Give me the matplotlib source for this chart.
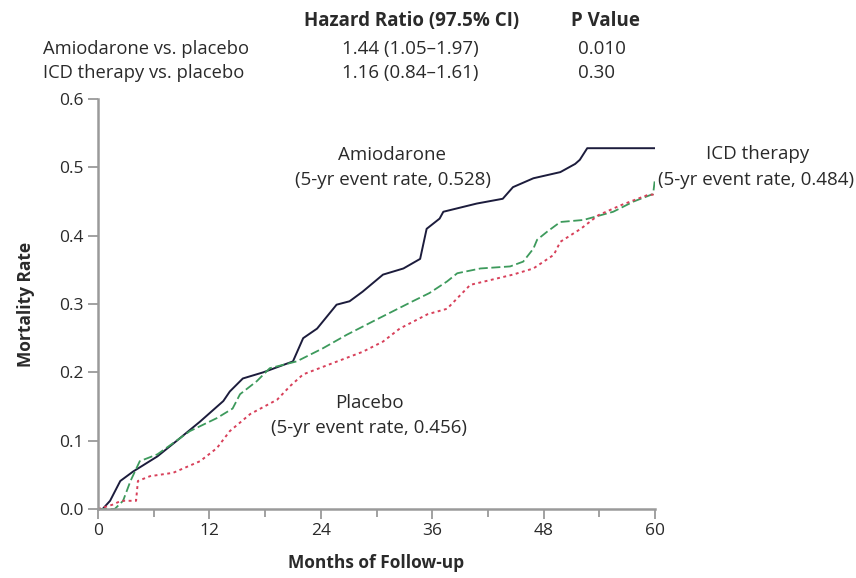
import matplotlib
matplotlib.use("Agg")
import matplotlib.pyplot as plt
import numpy as np

# Kaplan-Meier style cumulative mortality
amio_months = [0, 0.5, 1.3, 2.4, 3.8, 6.4, 8.5, 11.0, 13.5, 14.2, 15.6, 17.8, 21.0, 22.1,
               23.6, 25.7, 27.1, 28.5, 30.7, 32.9, 34.7, 35.4, 36.8, 37.2, 40.8, 43.6,
               44.7, 46.9, 49.8, 51.4, 51.9, 52.7, 60.0]
amio_rate = [0, 0, 0.012, 0.041, 0.055, 0.077, 0.100, 0.128, 0.158, 0.172, 0.191, 0.200,
             0.216, 0.250, 0.264, 0.299, 0.304, 0.318, 0.343, 0.352, 0.366, 0.410, 0.425,
             0.435, 0.447, 0.454, 0.471, 0.484, 0.493, 0.505, 0.511, 0.528, 0.528]

icd_months = [0, 1.8, 2.7, 3.5, 4.5, 6.4, 9.9, 12.8, 14.5, 15.3, 17.1, 18.5, 21.4, 24.2,
              26.8, 30.4, 33.9, 35.7, 37.6, 38.7, 41.2, 44.4, 45.8, 46.9, 47.3, 48.4,
              49.8, 52.3, 55.5, 57.7, 59.8, 60.0]
icd_rate = [0, 0, 0.012, 0.041, 0.070, 0.080, 0.114, 0.133, 0.147, 0.168, 0.187, 0.206,
            0.216, 0.235, 0.255, 0.280, 0.304, 0.316, 0.333, 0.345, 0.352, 0.355, 0.362,
            0.381, 0.394, 0.406, 0.420, 0.423, 0.435, 0.450, 0.461, 0.484]

plac_months = [0, 1.5, 2.5, 4.1, 4.3, 5.6, 8.1, 11.0, 12.8, 14.2, 16.4, 19.3, 20.7, 22.1,
               25.0, 28.5, 30.7, 32.5, 35.5, 37.6, 40.1, 44.7, 46.9, 49.1, 49.8, 52.0,
               53.9, 56.4, 59.3, 60.0]
plac_rate = [0, 0.006, 0.012, 0.012, 0.041, 0.048, 0.053, 0.070, 0.089, 0.114, 0.139,
             0.160, 0.180, 0.197, 0.212, 0.230, 0.245, 0.264, 0.285, 0.293, 0.328, 0.343,
             0.352, 0.372, 0.391, 0.410, 0.430, 0.445, 0.460, 0.460]

x_ticks = [0, 12, 24, 36, 48, 60]
y_ticks = [0.0, 0.1, 0.2, 0.3, 0.4, 0.5, 0.6]

comparisons = ["Amiodarone vs. placebo", "ICD therapy vs. placebo"]
hazard_ratios = ["1.44 (1.05\u20131.97)", "1.16 (0.84\u20131.61)"]
p_values = ["0.010", "0.30"]

plt.rcParams["font.family"] = ["Open Sans", "DejaVu Sans"]
txt = "#2a2a2a"
grey = "#9a9a9a"
W, H = 856, 578

fig = plt.figure(figsize=(8.56, 5.78), dpi=100)
ax = fig.add_axes([98 / W, 1 - 509 / H, 557 / W, 410 / H])

ax.plot(amio_months, amio_rate, color="#1c1c3c", lw=1.4)
ax.plot(icd_months, icd_rate, color="#3d9a5c", lw=1.3, ls=(0, (5, 2)))
ax.plot(plac_months, plac_rate, color="#d8405a", lw=1.4, ls=(0, (1.5, 1.8)))

ax.set_xlim(0, 60)
ax.set_ylim(0, 0.6)
ax.set_xticks(x_ticks)
ax.set_xticks([6, 18, 30, 42, 54], minor=True)
ax.set_yticks(y_ticks)
ax.set_yticklabels([f"{v:.1f}" for v in y_ticks])
for s in ["top", "right"]:
    ax.spines[s].set_visible(False)
for s in ["left", "bottom"]:
    ax.spines[s].set_color(grey)
    ax.spines[s].set_linewidth(1.8)
ax.tick_params(axis="both", which="major", length=7, width=1.3, color=grey,
               labelsize=12.5, labelcolor=txt, pad=3)
ax.tick_params(axis="x", which="minor", length=6, width=1.3, color=grey)

ax.set_xlabel("Months of Follow-up", fontsize=12.5, fontweight="bold", color=txt, labelpad=11)
ax.set_ylabel("Mortality Rate", fontsize=12.5, fontweight="bold", color=txt, labelpad=18)

# curve labels
lab = dict(ha="center", va="center", fontsize=13.5, color=txt)
fig.text(392 / W, 1 - 155 / H, "Amiodarone", **lab)
fig.text(393 / W, 1 - 180 / H, "(5-yr event rate, 0.528)", **lab)
fig.text(758 / W, 1 - 154 / H, "ICD therapy", **lab)
fig.text(756 / W, 1 - 180 / H, "(5-yr event rate, 0.484)", **lab)
fig.text(369 / W, 1 - 403 / H, "Placebo", **lab)
fig.text(369 / W, 1 - 428 / H, "(5-yr event rate, 0.456)", **lab)

# hazard ratio table
fig.text(412 / W, 1 - 21 / H, "Hazard Ratio (97.5% CI)", ha="center", va="center",
         fontsize=13.5, fontweight="bold", color=txt)
fig.text(605 / W, 1 - 21 / H, "P Value", ha="center", va="center",
         fontsize=13.5, fontweight="bold", color=txt)
for i, (c, hr, p) in enumerate(zip(comparisons, hazard_ratios, p_values)):
    y = 1 - (49 + 24 * i) / H
    fig.text(43 / W, y, c, ha="left", va="center", fontsize=13.2, color=txt)
    fig.text(410 / W, y, hr, ha="center", va="center", fontsize=13.5, color=txt)
    fig.text(578 / W, y, p, ha="left", va="center", fontsize=13.5, color=txt)

fig.savefig("out.png", dpi=100)
